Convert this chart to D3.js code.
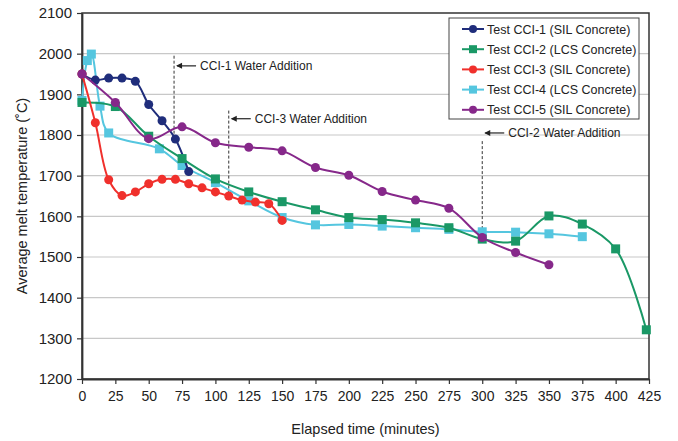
<!DOCTYPE html>
<html><head><meta charset="utf-8">
<script src="https://cdn.jsdelivr.net/npm/d3@7"></script>
<style>
html,body{margin:0;padding:0;background:#fff;}
svg{display:block;font-family:"Liberation Sans",Arial,sans-serif;}
</style></head>
<body>
<svg id="chart" width="678" height="441"></svg>
<script>
// ---- data ----
const seriesNames = ["Test CCI-1 (SIL Concrete)","Test CCI-2 (LCS Concrete)","Test CCI-3 (SIL Concrete)","Test CCI-4 (LCS Concrete)","Test CCI-5 (SIL Concrete)"];
const seriesColors = ["#1f2d7b","#1a9866","#f0302c","#55c6df","#86288a"];
const seriesShapes = ["circle","square","circle","square","circle"];

const cci1Time = [0,10,20,30,40,50,60,70,80];
const cci1Temp = [1950,1935,1940,1940,1932,1875,1835,1790,1710];

const cci2Time = [0,25,50,75,100,125,150,175,200,225,250,275,300,325,350,375,400,423];
const cci2Temp = [1880,1870,1797,1742,1692,1660,1636,1616,1597,1592,1584,1572,1544,1539,1601,1581,1520,1321];

const cci3Time = [0,10,20,30,40,50,60,70,80,90,100,110,120,130,140,150];
const cci3Temp = [1950,1830,1690,1651,1660,1680,1691,1691,1680,1670,1660,1650,1640,1635,1631,1590];

const cci4Time = [0,4,7,13.5,20,58,75,100,125,150,175,200,225,250,275,300,325,350,375];
const cci4Temp = [1885,1983,1999,1871,1805,1766,1725,1683,1638,1597,1579,1580,1576,1572,1568,1562,1561,1557,1550];

const cci5Time = [0,25,50,75,100,125,150,175,200,225,250,275,300,325,350];
const cci5Temp = [1950,1880,1791,1820,1781,1770,1761,1720,1701,1661,1640,1620,1548,1511,1481];

const xTicks = [0,25,50,75,100,125,150,175,200,225,250,275,300,325,350,375,400,425];
const yTicks = [1200,1300,1400,1500,1600,1700,1800,1900,2000,2100];

const annotLabels = ["CCI-1 Water Addition","CCI-3 Water Addition","CCI-2 Water Addition"];
const annotTime = [69,110,300];
const annotTop = [1995,1860,1785];
const annotBottom = [1790,1650,1544];
const annotArrowAt = [1970,1840,1805];

// ---- drawing ----
const svg = d3.select("#chart");
const x = d3.scaleLinear().domain([0,425]).range([82,649]);
const y = d3.scaleLinear().domain([1200,2100]).range([379,13]);

// gridlines
svg.append("g").selectAll("line").data(yTicks.slice(1,-1)).join("line")
  .attr("x1",x(0)).attr("x2",x(425))
  .attr("y1",d=>y(d)).attr("y2",d=>y(d))
  .attr("stroke","#c8c8c8").attr("stroke-width",1.2);

// frame
svg.append("rect").attr("x",x(0)).attr("y",y(2100)).attr("width",x(425)-x(0)).attr("height",y(1200)-y(2100))
  .attr("fill","none").attr("stroke","#333").attr("stroke-width",1.5);

// axes
const xAxis = svg.append("g").attr("transform",`translate(0,${y(1200)})`)
  .call(d3.axisBottom(x).tickValues(xTicks).tickFormat(d3.format("d")).tickSize(5).tickSizeOuter(0).tickPadding(7));
const yAxis = svg.append("g").attr("transform",`translate(${x(0)},0)`)
  .call(d3.axisLeft(y).tickValues(yTicks).tickFormat(d3.format("d")).tickSize(5).tickSizeOuter(0).tickPadding(5));
[xAxis,yAxis].forEach(g=>{
  g.select(".domain").attr("stroke","#333").attr("stroke-width",1.8);
  g.selectAll(".tick line").attr("stroke","#333").attr("stroke-width",1.2);
  g.selectAll(".tick text").attr("fill","#222").style("font-family","'Liberation Sans',Arial,sans-serif");
});
xAxis.selectAll(".tick text").style("font-size","14px");
yAxis.selectAll(".tick text").style("font-size","15px");

// axis titles
svg.append("text").attr("x",(x(0)+x(425))/2).attr("y",434).attr("text-anchor","middle")
  .style("font-size","14.5px").attr("fill","#222").text("Elapsed time (minutes)");
svg.append("text").attr("transform",`translate(27,${(y(1200)+y(2100))/2}) rotate(-90)`).attr("text-anchor","middle")
  .style("font-size","14.5px").attr("fill","#222").text("Average melt temperature (˚C)");

// annotations
const ann = svg.append("g");
annotLabels.forEach((lab,i)=>{
  const ax = x(annotTime[i]);
  ann.append("line").attr("x1",ax).attr("x2",ax).attr("y1",y(annotTop[i])).attr("y2",y(annotBottom[i]))
    .attr("stroke","#333").attr("stroke-width",1).attr("stroke-dasharray","3,2");
  const ay = y(annotArrowAt[i]);
  ann.append("line").attr("x1",ax+3).attr("x2",ax+22).attr("y1",ay).attr("y2",ay).attr("stroke","#222").attr("stroke-width",1.2);
  ann.append("path").attr("d",`M${ax+2},${ay} l6,-3 l0,6 z`).attr("fill","#222");
  ann.append("text").attr("x",ax+26).attr("y",ay+4).style("font-size","12px").attr("fill","#222").text(lab);
});

// series
const allTimes = [cci1Time,cci2Time,cci3Time,cci4Time,cci5Time];
const allTemps = [cci1Temp,cci2Temp,cci3Temp,cci4Temp,cci5Temp];
const line = d3.line().x(d=>x(d[0])).y(d=>y(d[1])).curve(d3.curveCatmullRom.alpha(0.5));
const drawOrder = [3,0,1,2,4];
drawOrder.forEach(i=>{
  const pts = allTimes[i].map((t,k)=>[t,allTemps[i][k]]);
  const g = svg.append("g");
  g.append("path").attr("d",line(pts)).attr("fill","none").attr("stroke",seriesColors[i]).attr("stroke-width",2);
  if(seriesShapes[i]==="circle"){
    g.selectAll("circle").data(pts).join("circle").attr("cx",d=>x(d[0])).attr("cy",d=>y(d[1])).attr("r",4.5).attr("fill",seriesColors[i]);
  } else {
    g.selectAll("rect").data(pts).join("rect").attr("x",d=>x(d[0])-4.5).attr("y",d=>y(d[1])-4.5).attr("width",9).attr("height",9).attr("fill",seriesColors[i]);
  }
});

// legend
const lg = svg.append("g");
lg.append("rect").attr("x",449).attr("y",18).attr("width",190).attr("height",101).attr("fill","#fff").attr("stroke","#444").attr("stroke-width",1);
seriesNames.forEach((n,i)=>{
  const ly = 29 + i*20.2;
  lg.append("line").attr("x1",462).attr("x2",484).attr("y1",ly).attr("y2",ly).attr("stroke",seriesColors[i]).attr("stroke-width",2);
  if(seriesShapes[i]==="circle") lg.append("circle").attr("cx",473).attr("cy",ly).attr("r",4).attr("fill",seriesColors[i]);
  else lg.append("rect").attr("x",469).attr("y",ly-4).attr("width",8).attr("height",8).attr("fill",seriesColors[i]);
  lg.append("text").attr("x",487).attr("y",ly+4.5).style("font-size","12.5px").attr("fill","#222").text(n);
});
</script>
</body></html>
